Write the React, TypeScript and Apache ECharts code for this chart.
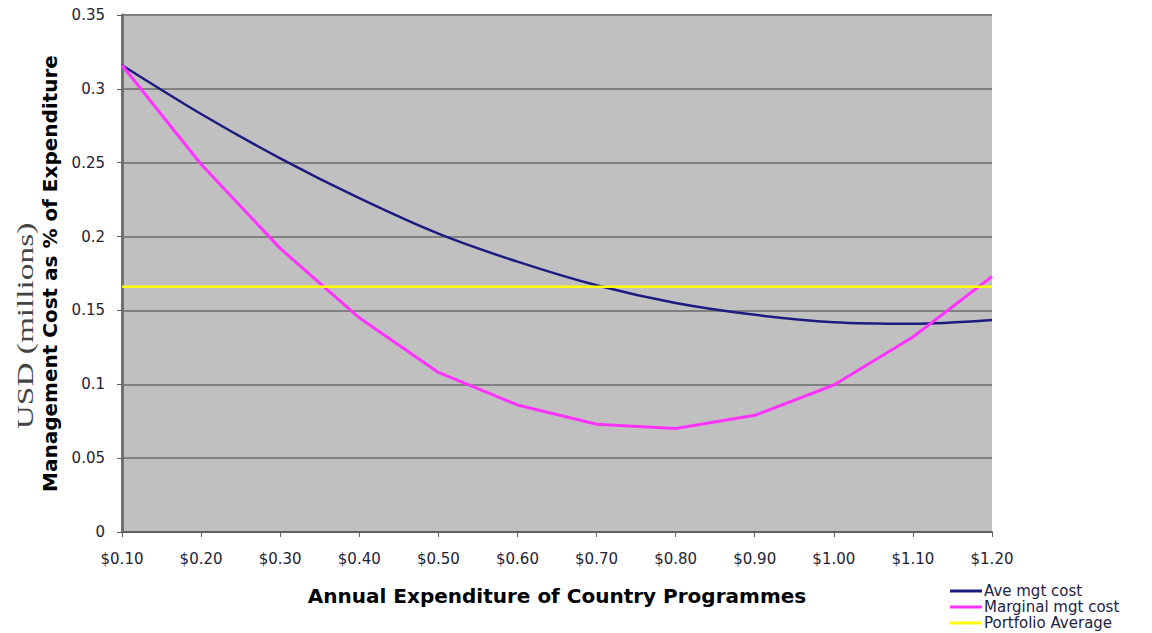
import React, { useEffect, useRef } from "react";
import * as echarts from "echarts";

const categories = ["$0.10", "$0.20", "$0.30", "$0.40", "$0.50", "$0.60", "$0.70", "$0.80", "$0.90", "$1.00", "$1.10", "$1.20"];
const aveMgtCost = [0.316, 0.283, 0.253, 0.226, 0.202, 0.183, 0.167, 0.155, 0.147, 0.142, 0.141, 0.1436];
const marginalMgtCost = [0.316, 0.249, 0.192, 0.145, 0.108, 0.086, 0.073, 0.07, 0.079, 0.0995, 0.132, 0.173];
const portfolioAverage = [0.166, 0.166, 0.166, 0.166, 0.166, 0.166, 0.166, 0.166, 0.166, 0.166, 0.166, 0.166];
const seriesNames = ["Ave mgt cost", "Marginal mgt cost", "Portfolio Average"];

const SANS = "'DejaVu Sans', Verdana, sans-serif";

export default function App() {
  const ref = useRef<HTMLDivElement>(null);
  useEffect(() => {
    if (!ref.current) return;
    const chart = echarts.init(ref.current, null, { renderer: "svg" });
    chart.setOption({
      animation: false,
      backgroundColor: "#ffffff",
      textStyle: { fontFamily: SANS },
      grid: {
        left: 122,
        right: 160,
        top: 15,
        bottom: 101,
        show: true,
        backgroundColor: "#c0c0c0",
        borderWidth: 0,
      },
      legend: {
        orient: "vertical",
        left: 950,
        top: 583,
        padding: 0,
        itemWidth: 32,
        itemHeight: 3,
        itemGap: 0,
        icon: "rect",
        data: seriesNames,
        textStyle: { fontFamily: SANS, fontSize: 15, color: "#222244", lineHeight: 16, padding: [0, 0, 0, -3] },
      },
      xAxis: {
        type: "category",
        data: categories,
        boundaryGap: false,
        name: "Annual Expenditure of Country Programmes",
        nameLocation: "middle",
        nameGap: 54,
        nameTextStyle: { fontFamily: SANS, fontSize: 20, fontWeight: "bold", color: "#000" },
        axisLine: { lineStyle: { color: "#606060", width: 2 } },
        axisTick: { show: true, length: 5, lineStyle: { color: "#606060" } },
        axisLabel: { fontFamily: SANS, fontSize: 15, color: "#222233", margin: 19, interval: 0 },
        splitLine: { show: false },
      },
      yAxis: {
        type: "value",
        min: 0,
        max: 0.35,
        interval: 0.05,
        name: "Management Cost as % of Expenditure",
        nameLocation: "middle",
        nameGap: 62,
        nameRotate: 90,
        nameTextStyle: { fontFamily: SANS, fontSize: 20, fontWeight: "bold", color: "#000" },
        axisLine: { show: true, lineStyle: { color: "#707070", width: 3 } },
        axisTick: { show: true, length: 5, lineStyle: { color: "#606060" } },
        axisLabel: { fontFamily: SANS, fontSize: 15, color: "#222233", margin: 17 },
        splitLine: { show: true, lineStyle: { color: "#808080", width: 2 } },
      },
      graphic: [
        {
          type: "text",
          x: 25,
          y: 326,
          rotation: Math.PI / 2,
          scaleX: 1.45,
          style: {
            text: "USD (millions)",
            font: "23px 'Liberation Serif', 'Times New Roman', serif",
            fill: "#444444",
            textAlign: "center",
            textVerticalAlign: "middle",
          },
        },
      ],
      series: [
        {
          name: seriesNames[0],
          type: "line",
          data: aveMgtCost,
          smooth: 0.3,
          showSymbol: false,
          lineStyle: { color: "#1b1b80", width: 2.5 },
          itemStyle: { color: "#1b1b80" },
        },
        {
          name: seriesNames[1],
          type: "line",
          data: marginalMgtCost,
          showSymbol: false,
          lineStyle: { color: "#ff33ff", width: 3 },
          itemStyle: { color: "#ff33ff" },
        },
        {
          name: seriesNames[2],
          type: "line",
          data: portfolioAverage,
          showSymbol: false,
          lineStyle: { color: "#ffff00", width: 2.5 },
          itemStyle: { color: "#ffff00" },
        },
      ],
    });
    return () => chart.dispose();
  }, []);
  return <div ref={ref} style={{ position: "fixed", left: 0, top: 0, width: 1152, height: 633 }} />;
}
